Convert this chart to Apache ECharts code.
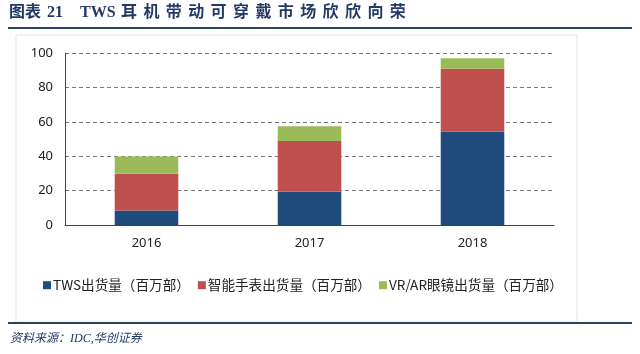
<!DOCTYPE html>
<html lang="zh-cn">
<head>
    <meta charset="UTF-8">
    <title>TWS</title>
    <style>
        body { padding: 0; margin: 0; background-color: #FFFFFF; overflow: hidden; }
        #main_chart { width: 640px; height: 354px; }
    </style>
</head>
<body>
<div id="main_chart"></div>
<script src="https://cdn.jsdelivr.net/npm/echarts@6/dist/echarts.min.js"></script>
<script>
var years = ['2016', '2017', '2018'];
var twsShip = [8.5, 19.5, 54.2];
var watchShip = [21.3, 29.4, 36.7];
var vrShip = [10, 8.5, 6];
var seriesNames = ['TWS出货量（百万部）', '智能手表出货量（百万部）', 'VR/AR眼镜出货量（百万部）'];
var colors = ['#1F4A7C', '#C0504D', '#9BBB59'];

var chart = echarts.init(document.getElementById('main_chart'));

// title is drawn piece by piece to get the wide spacing of the original
var titleFont = 'bold 16px "Liberation Serif", "Noto Sans CJK SC"';
var titleParts = [
    { text: '图表', x: 9 },
    { text: '21', x: 47 },
    { text: 'TWS', x: 80 }
];
'耳机带动可穿戴市场欣欣向荣'.split('').forEach(function (c, i) {
    titleParts.push({ text: c, x: 121 + i * 22.4 });
});

var graphics = titleParts.map(function (p) {
    return { type: 'text', x: p.x, y: 5, style: { text: p.text, fill: '#233A66', font: titleFont } };
});
graphics.push(
    { type: 'rect', shape: { x: 8, y: 27, width: 624, height: 2 }, style: { fill: '#24465E' } },
    { type: 'rect', z: -1, shape: { x: 16, y: 35, width: 561, height: 287 }, style: { fill: '#fff', stroke: '#E3E3E3', lineWidth: 1 } },
    { type: 'rect', shape: { x: 8, y: 322, width: 624, height: 2 }, style: { fill: '#24465E' } },
    { type: 'text', x: 10, y: 333, style: { text: '资料来源：IDC,华创证券', fill: '#233A66', font: 'italic 12px "Liberation Serif", "Noto Sans CJK SC"' } }
);

var option = {
    animation: false,
    color: colors,
    graphic: graphics,
    legend: {
        bottom: 57,
        left: 38,
        itemWidth: 8,
        itemHeight: 8,
        itemGap: 8,
        icon: 'rect',
        textStyle: { fontSize: 13.6, color: '#222', fontFamily: 'Noto Sans CJK SC', padding: [0, 0, 0, -3] },
        data: seriesNames
    },
    grid: { left: 65, right: 86, top: 53, bottom: 129 },
    xAxis: {
        type: 'category',
        data: years,
        axisLine: { lineStyle: { color: '#444', width: 1 } },
        axisTick: { show: false },
        axisLabel: { color: '#222', fontSize: 13, margin: 12, fontFamily: 'Noto Sans' }
    },
    yAxis: {
        type: 'value',
        min: 0, max: 100, interval: 20,
        axisLine: { show: true, lineStyle: { color: '#444', width: 1 } },
        axisLabel: { color: '#222', fontSize: 13, margin: 12, fontFamily: 'Noto Sans' },
        splitLine: { lineStyle: { color: '#777', type: [4, 3] } }
    },
    series: [
        { name: seriesNames[0], type: 'bar', stack: 'a', barWidth: '39%', data: twsShip },
        { name: seriesNames[1], type: 'bar', stack: 'a', data: watchShip },
        { name: seriesNames[2], type: 'bar', stack: 'a', data: vrShip }
    ]
};

chart.setOption(option);
</script>
</body>
</html>
